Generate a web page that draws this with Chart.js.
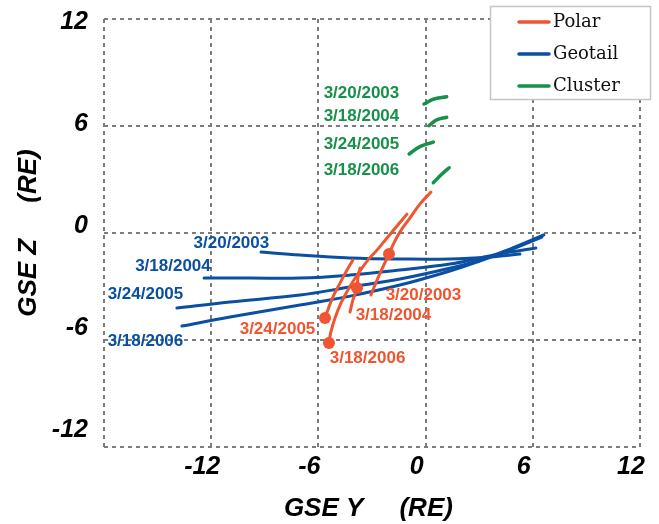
<!DOCTYPE html>
<html>
<head>
<meta charset="utf-8">
<script src="https://cdn.jsdelivr.net/npm/chart.js@4.4.1/dist/chart.umd.min.js"></script>
<style>
  body { margin: 0; background: #fff; }
  #wrap { width: 659px; height: 524px; }
</style>
</head>
<body>
<div id="wrap"><canvas id="orbits" width="659" height="524"></canvas></div>
<script>
const dates = ['3/20/2003', '3/18/2004', '3/24/2005', '3/18/2006'];
const missions = ['Polar', 'Geotail', 'Cluster'];
const xTicks = [-12, -6, 0, 6, 12];
const yTicks = [-12, -6, 0, 6, 12];

// spacecraft tracks, [GSE Y, GSE Z] in RE
const polar2003 = [[-3.06,-3.48],[-2.72,-2.64],[-2.39,-1.91],[-2.05,-1.18],[-1.83,-0.68],[-1.44,0.05],[-0.88,0.84],[-0.32,1.62],[0.30,2.30]];
const polar2004 = [[-4.23,-4.43],[-4.07,-3.76],[-3.84,-3.09],[-3.79,-2.53],[-3.67,-1.97]];
const polar2005 = [[-5.63,-4.77],[-5.47,-4.32],[-5.19,-3.59],[-4.79,-2.81],[-4.40,-2.08],[-4.07,-1.52]];
const polar2006 = [[-5.41,-6.17],[-5.30,-5.55],[-5.07,-4.77],[-4.74,-3.93],[-4.29,-3.09],[-3.79,-2.30],[-3.23,-1.52],[-2.72,-0.96],[-2.16,-0.28],[-1.60,0.39],[-1.04,1.06]];
// index of the marked position on each Polar track
const polarMark = [3, 2, 0, 0];

const geotail2003 = [[-9.21,-1.07],[-7.03,-1.24],[-4.23,-1.40],[-1.44,-1.46],[1.36,-1.46],[3.60,-1.35],[5.28,-1.18]];
const geotail2004 = [[-12.40,-2.53],[-9.83,-2.53],[-7.03,-2.53],[-4.23,-2.36],[-1.44,-2.08],[1.36,-1.74],[3.04,-1.40],[4.72,-1.07],[6.17,-0.84]];
const geotail2005 = [[-13.92,-4.21],[-10.95,-3.87],[-7.03,-3.48],[-4.23,-3.03],[-1.44,-2.58],[1.36,-1.97],[3.04,-1.52],[4.72,-0.90],[6.62,-0.11]];
const geotail2006 = [[-13.64,-5.22],[-10.95,-4.71],[-7.03,-4.04],[-4.23,-3.54],[-1.44,-2.92],[1.36,-2.13],[3.04,-1.57],[4.72,-0.96],[6.51,-0.23]];

const cluster2003 = [[-0.09,7.23],[0.43,7.50],[1.18,7.64]];
const cluster2004 = [[0.19,6.02],[0.62,6.34],[1.18,6.49]];
const cluster2005 = [[-0.92,4.43],[-0.32,4.84],[0.43,5.10]];
const cluster2006 = [[0.43,2.82],[0.90,3.29],[1.32,3.66]];

// where the date tags sit (GSE Y, GSE Z)
const polarTagAt = [[-0.12,-3.48],[-1.80,-4.60],[-8.29,-5.39],[-3.25,-7.04]];
const geotailTagAt = [[-10.87,-0.56],[-14.14,-1.88],[-15.68,-3.45],[-15.68,-6.09]];
const clusterTagAt = [[-3.59,7.85],[-3.59,6.53],[-3.59,4.99],[-3.59,3.53]];

const colors = ['#ee5530', '#0b4fa3', '#17904a'];

const tracks = [
  [polar2003, polar2004, polar2005, polar2006],
  [geotail2003, geotail2004, geotail2005, geotail2006],
  [cluster2003, cluster2004, cluster2005, cluster2006]
];
const tagAt = [polarTagAt, geotailTagAt, clusterTagAt];

const datasets = [];
tracks.forEach((group, m) => {
  group.forEach((track, d) => {
    datasets.push({
      label: missions[m] + ' ' + dates[d],
      data: track.map(p => ({ x: p[0], y: p[1] })),
      showLine: true,
      borderColor: colors[m],
      backgroundColor: colors[m],
      borderWidth: m === 2 ? 3.5 : 3,
      borderCapStyle: 'round',
      tension: 0.4,
      pointRadius: m === 0 ? track.map((p, i) => i === polarMark[d] ? 6 : 0) : 0,
      pointBorderWidth: 0,
      order: m === 0 ? 0 : 1
    });
  });
});

const dateTags = {
  id: 'dateTags',
  afterDatasetsDraw(chart) {
    const { ctx, scales: { x, y } } = chart;
    ctx.save();
    ctx.font = 'bold 17px "Liberation Sans", Arial, sans-serif';
    ctx.textAlign = 'center';
    ctx.textBaseline = 'middle';
    tagAt.forEach((list, m) => {
      ctx.fillStyle = colors[m];
      list.forEach((p, d) => {
        ctx.fillText(dates[d], x.getPixelForValue(p[0]), y.getPixelForValue(p[1]));
      });
    });
    ctx.restore();
  }
};

// boxed legend in the top right corner, over the grid
const boxLegend = {
  id: 'boxLegend',
  afterDraw(chart) {
    const ctx = chart.ctx;
    ctx.save();
    ctx.fillStyle = '#fff';
    ctx.fillRect(490, 6, 161, 94);
    ctx.strokeStyle = '#c4c4c4';
    ctx.lineWidth = 1.5;
    ctx.strokeRect(490.5, 6.5, 160, 93);
    ctx.font = '18px "DejaVu Serif", serif';
    ctx.textBaseline = 'middle';
    ctx.lineCap = 'round';
    ctx.lineWidth = 3.5;
    missions.forEach((name, i) => {
      const yy = 22 + i * 32;
      ctx.strokeStyle = colors[i];
      ctx.beginPath();
      ctx.moveTo(519, yy);
      ctx.lineTo(549, yy);
      ctx.stroke();
      ctx.fillStyle = '#111';
      ctx.fillText(name, 553, yy);
    });
    ctx.restore();
  }
};

const axisFont = { family: '"Liberation Sans", Arial, sans-serif', size: 25, style: 'italic', weight: 'bold' };
const titleFont = { family: '"Liberation Sans", Arial, sans-serif', size: 26, style: 'italic', weight: 'bold' };
const gridStyle = { color: '#7c7c7c', lineWidth: 2, drawTicks: false };

new Chart(document.getElementById('orbits'), {
  type: 'scatter',
  data: { datasets },
  options: {
    responsive: false,
    animation: false,
    events: [],
    layout: { padding: { top: 19, right: 19, left: 0, bottom: 0 } },
    plugins: { legend: { display: false }, tooltip: { enabled: false } },
    scales: {
      x: {
        min: -18, max: 12,
        afterFit(scale) {
          scale.height = 77;
          scale.paddingLeft = 0;
          scale.paddingRight = 0;
        },
        grid: gridStyle,
        border: { display: false, dash: [4, 4] },
        ticks: {
          stepSize: 6, padding: 5, labelOffset: -9, color: '#000', font: axisFont, maxRotation: 0,
          callback: v => xTicks.includes(v) ? String(v) : ''
        },
        title: { display: true, text: 'GSE Y     (RE) ', color: '#000', font: titleFont, padding: { top: 0, bottom: 0 } }
      },
      // data axis: carries the grid only
      y: {
        min: -12, max: 12,
        afterFit(scale) {
          scale.width = 0;
          scale.paddingTop = 0;
          scale.paddingBottom = 0;
        },
        grid: gridStyle,
        border: { display: false, dash: [4, 4] },
        ticks: { display: false, stepSize: 6 }
      },
      // label axis: the printed Z numbers run on a slightly tighter spacing than the grid
      yLabels: {
        position: 'left',
        min: -13, max: 12.18,
        afterBuildTicks(scale) {
          scale.ticks = yTicks.map(v => ({ value: v }));
        },
        afterFit(scale) {
          scale.width = 104;
          scale.paddingTop = 0;
          scale.paddingBottom = 0;
        },
        grid: { display: false },
        border: { display: false },
        ticks: { padding: 8, color: '#000', font: axisFont },
        title: { display: true, text: 'GSE Z     (RE)', color: '#000', font: titleFont, padding: { top: 13, bottom: 0 } }
      }
    }
  },
  plugins: [dateTags, boxLegend]
});
</script>
</body>
</html>
